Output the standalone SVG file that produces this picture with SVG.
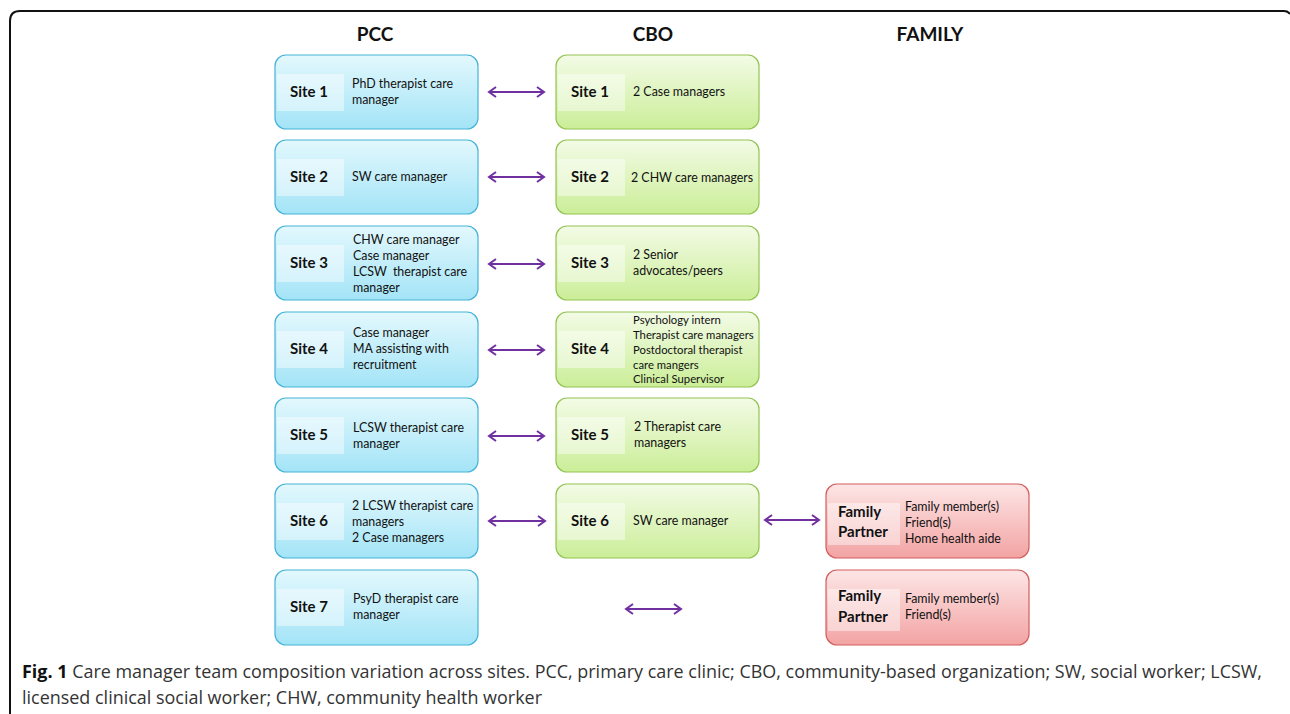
<svg xmlns="http://www.w3.org/2000/svg" width="1290" height="714" viewBox="0 0 1290 714">
<defs>
<linearGradient id="gB" x1="0" y1="0" x2="0" y2="1"><stop offset="0" stop-color="#e3f8fd"/><stop offset="1" stop-color="#a3e4f7"/></linearGradient>
<linearGradient id="gG" x1="0" y1="0" x2="0" y2="1"><stop offset="0" stop-color="#f3fbe6"/><stop offset="1" stop-color="#cbee98"/></linearGradient>
<linearGradient id="gR" x1="0" y1="0" x2="0" y2="1"><stop offset="0" stop-color="#fde6e6"/><stop offset="1" stop-color="#f3a3a3"/></linearGradient>
<marker id="ah" markerWidth="10" markerHeight="12" refX="8" refY="6" orient="auto-start-reverse" markerUnits="userSpaceOnUse"><path d="M1,1 L8,6 L1,11" fill="none" stroke="#7030a0" stroke-width="2"/></marker>
<style>
.pb{fill:url(#gB);stroke:#45b3d8;stroke-width:1.2}
.cb{fill:url(#gG);stroke:#93c452;stroke-width:1.2}
.fb{fill:url(#gR);stroke:#d35d5d;stroke-width:1.2}
.lb{fill:#ffffff;opacity:0.45}
.site{font-family:Lato,"Liberation Sans",sans-serif;font-weight:bold;font-size:15px;fill:#111}
.t{font-family:Lato,"Liberation Sans",sans-serif;font-size:12.4px;fill:#111}
.ts{font-family:Lato,"Liberation Sans",sans-serif;font-size:11.3px;fill:#111}
.hd{font-family:Lato,"Liberation Sans",sans-serif;font-weight:bold;font-size:19px;fill:#111}
.cap{font-family:"Open Sans","Liberation Sans",sans-serif;font-size:17.5px;fill:#333}
.arr{stroke:#7030a0;stroke-width:2;fill:none;marker-start:url(#ah);marker-end:url(#ah)}
</style>
</defs>
<path d="M10,714 L10,21 Q10,11 20,11 L1284,11 Q1288,11 1290,14" fill="none" stroke="#111" stroke-width="2"/>
<text class="hd" x="375" y="41" text-anchor="middle">PCC</text>
<text class="hd" x="653" y="41" text-anchor="middle">CBO</text>
<text class="hd" x="930" y="41" text-anchor="middle">FAMILY</text>

<g id="pcc1"><rect class="pb" x="275" y="55" width="203" height="74" rx="11"/><rect class="lb" x="277" y="74" width="67" height="37"/><text class="site" x="309" y="97" text-anchor="middle">Site 1</text><text class="t" x="352" y="88">PhD therapist care</text><text class="t" x="352" y="104">manager</text></g>
<g id="pcc2"><rect class="pb" x="275" y="140" width="203" height="74" rx="11"/><rect class="lb" x="277" y="159" width="67" height="37"/><text class="site" x="309" y="182" text-anchor="middle">Site 2</text><text class="t" x="352" y="181">SW care manager</text></g>
<g id="pcc3"><rect class="pb" x="275" y="226" width="203" height="74" rx="11"/><rect class="lb" x="277" y="245" width="67" height="37"/><text class="site" x="309" y="268" text-anchor="middle">Site 3</text><text class="t" x="353" y="244">CHW care manager</text><text class="t" x="353" y="260">Case manager</text><text class="t" x="353" y="276" xml:space="preserve">LCSW  therapist care</text><text class="t" x="353" y="292">manager</text></g>
<g id="pcc4"><rect class="pb" x="275" y="312" width="203" height="75" rx="11"/><rect class="lb" x="277" y="331" width="67" height="37"/><text class="site" x="309" y="354" text-anchor="middle">Site 4</text><text class="t" x="353" y="337">Case manager</text><text class="t" x="353" y="353">MA assisting with</text><text class="t" x="353" y="369">recruitment</text></g>
<g id="pcc5"><rect class="pb" x="275" y="398" width="203" height="74" rx="11"/><rect class="lb" x="277" y="417" width="67" height="37"/><text class="site" x="309" y="440" text-anchor="middle">Site 5</text><text class="t" x="353" y="432">LCSW therapist care</text><text class="t" x="353" y="448">manager</text></g>
<g id="pcc6"><rect class="pb" x="275" y="484" width="203" height="74" rx="11"/><rect class="lb" x="277" y="503" width="67" height="37"/><text class="site" x="309" y="526" text-anchor="middle">Site 6</text><text class="t" x="352" y="510">2 LCSW therapist care</text><text class="t" x="352" y="526">managers</text><text class="t" x="352" y="542">2 Case managers</text></g>
<g id="pcc7"><rect class="pb" x="275" y="570" width="203" height="75" rx="11"/><rect class="lb" x="277" y="589" width="67" height="37"/><text class="site" x="309" y="612" text-anchor="middle">Site 7</text><text class="t" x="353" y="603">PsyD therapist care</text><text class="t" x="353" y="619">manager</text></g>

<g id="cbo1"><rect class="cb" x="556" y="55" width="203" height="74" rx="11"/><rect class="lb" x="558" y="74" width="67" height="37"/><text class="site" x="590" y="97" text-anchor="middle">Site 1</text><text class="t" x="633" y="96">2 Case managers</text></g>
<g id="cbo2"><rect class="cb" x="556" y="140" width="203" height="74" rx="11"/><rect class="lb" x="558" y="159" width="67" height="37"/><text class="site" x="590" y="182" text-anchor="middle">Site 2</text><text class="t" x="631" y="182">2 CHW care managers</text></g>
<g id="cbo3"><rect class="cb" x="556" y="226" width="203" height="74" rx="11"/><rect class="lb" x="558" y="245" width="67" height="37"/><text class="site" x="590" y="268" text-anchor="middle">Site 3</text><text class="t" x="633" y="259">2 Senior</text><text class="t" x="633" y="275">advocates/peers</text></g>
<g id="cbo4"><rect class="cb" x="556" y="312" width="203" height="75" rx="11"/><rect class="lb" x="558" y="331" width="67" height="37"/><text class="site" x="590" y="354" text-anchor="middle">Site 4</text><text class="ts" x="633" y="324">Psychology intern</text><text class="ts" x="633" y="339">Therapist care managers</text><text class="ts" x="633" y="354">Postdoctoral therapist</text><text class="ts" x="633" y="369">care mangers</text><text class="ts" x="633" y="383">Clinical Supervisor</text></g>
<g id="cbo5"><rect class="cb" x="556" y="398" width="203" height="74" rx="11"/><rect class="lb" x="558" y="417" width="67" height="37"/><text class="site" x="590" y="440" text-anchor="middle">Site 5</text><text class="t" x="634" y="431">2 Therapist care</text><text class="t" x="634" y="447">managers</text></g>
<g id="cbo6"><rect class="cb" x="556" y="484" width="203" height="74" rx="11"/><rect class="lb" x="558" y="503" width="67" height="37"/><text class="site" x="590" y="526" text-anchor="middle">Site 6</text><text class="t" x="633" y="525">SW care manager</text></g>

<g id="fam6"><rect class="fb" x="826" y="484" width="203" height="74" rx="11"/><rect class="lb" x="828" y="503" width="72" height="42"/><text class="site" x="838" y="517">Family</text><text class="site" x="838" y="537">Partner</text><text class="t" x="905" y="511">Family member(s)</text><text class="t" x="905" y="527">Friend(s)</text><text class="t" x="905" y="543">Home health aide</text></g>
<g id="fam7"><rect class="fb" x="826" y="570" width="203" height="75" rx="11"/><rect class="lb" x="828" y="589" width="72" height="42"/><text class="site" x="838" y="601">Family</text><text class="site" x="838" y="622">Partner</text><text class="t" x="905" y="603">Family member(s)</text><text class="t" x="905" y="619">Friend(s)</text></g>

<g id="connectors">
<line class="arr" x1="489" y1="92" x2="544" y2="92"/>
<line class="arr" x1="489" y1="177" x2="544" y2="177"/>
<line class="arr" x1="489" y1="264" x2="544" y2="264"/>
<line class="arr" x1="489" y1="350" x2="544" y2="350"/>
<line class="arr" x1="489" y1="436" x2="544" y2="436"/>
<line class="arr" x1="489" y1="521" x2="545" y2="521"/>
<line class="arr" x1="765" y1="520" x2="819" y2="520"/>
<line class="arr" x1="626" y1="609" x2="681" y2="609"/>
</g>

<text class="cap" x="22" y="678" textLength="1240" lengthAdjust="spacingAndGlyphs"><tspan font-weight="bold" fill="#111">Fig. 1</tspan> Care manager team composition variation across sites. PCC, primary care clinic; CBO, community-based organization; SW, social worker; LCSW,</text>
<text class="cap" x="22" y="704" textLength="520" lengthAdjust="spacingAndGlyphs">licensed clinical social worker; CHW, community health worker</text>
</svg>
